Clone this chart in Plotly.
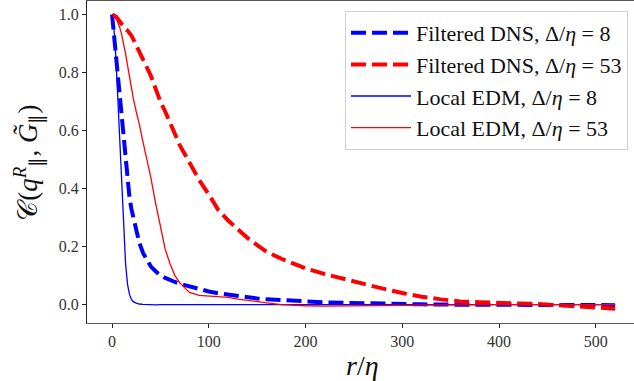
import plotly.graph_objects as go

r = [0, 2, 4, 6, 8, 10, 12, 14, 16, 18, 20, 22, 25, 28, 32, 36, 40, 45, 50, 55, 60, 65, 70,
     80, 90, 100, 110, 120, 130, 140, 150, 160, 175, 190, 200, 220, 240, 260, 280, 300,
     320, 340, 360, 380, 400, 420, 440, 460, 480, 500, 520]

dns_8 = [1.0, 0.93, 0.86, 0.78, 0.70, 0.63, 0.56, 0.49, 0.42, 0.37, 0.33, 0.30, 0.255, 0.215,
         0.178, 0.152, 0.132, 0.115, 0.101, 0.092, 0.084, 0.078, 0.072,
         0.062, 0.053, 0.045, 0.039, 0.034, 0.029, 0.025, 0.021, 0.018, 0.015, 0.012, 0.011,
         0.008, 0.006, 0.004, 0.003, 0.002, 0.001, 0.0, 0.0, -0.001, -0.001, -0.001, -0.001,
         -0.001, -0.002, -0.002, -0.002]

dns_53 = [1.0, 0.998, 0.993, 0.985, 0.975, 0.965, 0.955, 0.95, 0.945, 0.937, 0.928, 0.915,
          0.895, 0.875, 0.85, 0.82, 0.79, 0.745, 0.70, 0.665, 0.625, 0.585, 0.55,
          0.49, 0.43, 0.38, 0.325, 0.29, 0.26, 0.23, 0.205, 0.182, 0.158, 0.137, 0.125,
          0.105, 0.088, 0.07, 0.055, 0.04, 0.027, 0.018, 0.011, 0.008, 0.007, 0.005, 0.002,
          -0.002, -0.006, -0.010, -0.014]

edm_8 = [1.0, 0.95, 0.85, 0.70, 0.56, 0.40, 0.26, 0.14, 0.07, 0.035, 0.018, 0.010, 0.005,
         0.002, 0.001, 0.0, -0.001, -0.001, 0.0, 0.0, 0.001, 0.0, 0.0,
         -0.001, 0.0, 0.0, 0.0, 0.0, 0.0, 0.0, 0.0, 0.0, 0.0, 0.0, 0.0,
         0.0, 0.0, 0.0, 0.0, 0.0, 0.0, 0.0, 0.0, 0.0, 0.0, 0.0, 0.0, 0.0, 0.0, 0.0, 0.0]

edm_53 = [1.0, 0.998, 0.99, 0.975, 0.955, 0.93, 0.90, 0.865, 0.825, 0.785, 0.745, 0.71,
          0.665, 0.625, 0.56, 0.50, 0.44, 0.35, 0.27, 0.19, 0.14, 0.10, 0.075,
          0.042, 0.032, 0.030, 0.028, 0.025, 0.019, 0.014, 0.010, 0.006, 0.0, -0.003, -0.004,
          -0.005, -0.005, -0.005, -0.004, -0.003, -0.002, -0.001, 0.0, 0.0, 0.0, 0.0, 0.0,
          0.0, 0.0, 0.0, 0.0]

names = ["Filtered DNS, Δ/<i>η</i> = 8", "Filtered DNS, Δ/<i>η</i> = 53",
         "Local EDM, Δ/<i>η</i> = 8", "Local EDM, Δ/<i>η</i> = 53"]

x_ticks = [0, 100, 200, 300, 400, 500]
y_ticks = [0.0, 0.2, 0.4, 0.6, 0.8, 1.0]
y_tick_labels = ["0.0", "0.2", "0.4", "0.6", "0.8", "1.0"]

x_title = "<i>r</i>/<i>η</i>"
y_title = "𝒞(<i>q</i><sup><i>R</i></sup><sub>∥</sub>, <i>G̃</i><sub>∥</sub>)"

FONT = "Liberation Serif"

fig = go.Figure()
styles = [dict(color="#0000ff", width=4, dash="15px,6px"),
          dict(color="#ff0000", width=4, dash="15px,6px"),
          dict(color="#0000ff", width=1.3),
          dict(color="#ff0000", width=1.3)]
for i, (ys, nm) in enumerate(zip([dns_8, dns_53, edm_8, edm_53], names)):
    fig.add_trace(go.Scatter(x=r, y=ys, mode="lines", name=nm, legendgroup=f"g{i}",
                             line=styles[i]))

fig.update_layout(
    width=634, height=381,
    margin=dict(l=87, r=0, t=1, b=58, autoexpand=False),
    plot_bgcolor="white", paper_bgcolor="white",
    font=dict(family=FONT, color="#222222"),
    legend=dict(x=0.989, y=0.969, xanchor="right", yanchor="top",
                bgcolor="rgba(255,255,255,0.9)", bordercolor="#d0d0d0", borderwidth=1,
                font=dict(size=22, family=FONT, color="#111111"),
                itemwidth=60, tracegroupgap=0),
    xaxis=dict(range=[-25.9, 539.5], tickmode="array", tickvals=x_ticks,
               showgrid=False, zeroline=False, showline=True, linecolor="#555555",
               linewidth=1.2, mirror=True, ticks="outside", ticklen=4, tickcolor="#222222",
               tickfont=dict(size=16, family=FONT, color="#333333"), automargin=False),
    yaxis=dict(range=[-0.0635, 1.047], tickmode="array", tickvals=y_ticks,
               ticktext=y_tick_labels,
               showgrid=False, zeroline=False, showline=True, linecolor="#222222",
               linewidth=1.2, ticks="outside", ticklen=4, tickcolor="#222222",
               tickfont=dict(size=16, family=FONT, color="#333333"), automargin=False),
    annotations=[
        dict(text=x_title, xref="paper", yref="paper", x=0.504, y=-0.1335,
             xanchor="center", yanchor="middle", showarrow=False,
             font=dict(size=28, family=FONT, color="#111111")),
        dict(text=y_title, xref="paper", yref="paper", x=-0.1066, y=0.497,
             xanchor="center", yanchor="middle", showarrow=False, textangle=-90,
             font=dict(size=27, family=FONT, color="#111111")),
    ],
)

fig.write_html("out.html", config={"displayModeBar": False},
               post_script="document.body.style.margin='0px';document.body.style.overflow='hidden';")
